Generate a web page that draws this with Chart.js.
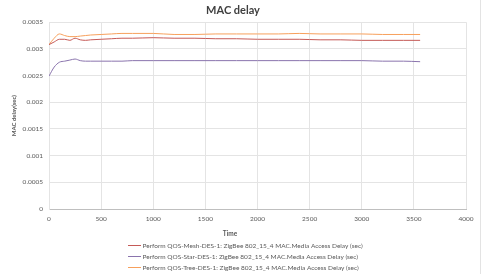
<!DOCTYPE html>
<html>
<head>
<meta charset="utf-8">
<script src="https://cdn.jsdelivr.net/npm/chart.js@4"></script>
<style>
  html, body { margin: 0; padding: 0; background: #ffffff; }
  #wrap { width: 484px; height: 274px; position: relative; }
</style>
</head>
<body>
<div id="wrap"><canvas id="c" width="484" height="274"></canvas></div>
<script>
const chartTitle = "MAC delay";
const xTitle = "Time";
const yTitle = "MAC delay(sec)";
const times = [0, 50, 100, 150, 200, 250, 300, 350, 400, 500, 600, 700, 800, 1000, 1200, 1400, 1600, 1800, 2000, 2200, 2400, 2600, 2800, 3000, 3200, 3400, 3560];
const meshDelay = [0.00308, 0.00313, 0.00318, 0.00318, 0.00316, 0.00320, 0.00317, 0.00316, 0.00317, 0.00318, 0.00319, 0.00320, 0.00320, 0.00321, 0.00320, 0.00320, 0.00319, 0.00319, 0.00318, 0.00318, 0.00318, 0.00317, 0.00317, 0.00316, 0.00316, 0.00316, 0.00316];
const starDelay = [0.00249, 0.00266, 0.00275, 0.00277, 0.00279, 0.00281, 0.00278, 0.00277, 0.00277, 0.00277, 0.00277, 0.00277, 0.00278, 0.00278, 0.00278, 0.00278, 0.00278, 0.00278, 0.00278, 0.00278, 0.00278, 0.00278, 0.00278, 0.00278, 0.00277, 0.00277, 0.00276];
const treeDelay = [0.00308, 0.00320, 0.00328, 0.00325, 0.00323, 0.00323, 0.00324, 0.00325, 0.00326, 0.00327, 0.00328, 0.00329, 0.00329, 0.00329, 0.00327, 0.00327, 0.00328, 0.00328, 0.00328, 0.00328, 0.00329, 0.00328, 0.00328, 0.00328, 0.00327, 0.00327, 0.00327];
const seriesLabels = [
  "Perform QOS-Mesh-DES-1: ZigBee 802_15_4 MAC.Media Access Delay (sec)",
  "Perform QOS-Star-DES-1: ZigBee 802_15_4 MAC.Media Access Delay (sec)",
  "Perform QOS-Tree-DES-1: ZigBee 802_15_4 MAC.Media Access Delay (sec)"
];
const seriesColors = ["#c55a57", "#8a74ad", "#f7a05c"];
const xMin = 0, xMax = 4000, xStep = 500;
const yMin = 0, yMax = 0.0035, yStep = 0.0005;

const FONT = "Lato, 'Open Sans', sans-serif";
const TEXT = "#595959";

function pts(vals) { return times.map((t, i) => ({ x: t, y: vals[i] })); }

const extras = {
  id: 'extras',
  afterDraw(chart) {
    const ctx = chart.ctx;
    ctx.save();
    ctx.fillStyle = TEXT;
    ctx.font = "bold 6.5px " + FONT;
    ctx.textAlign = 'center';
    ctx.textBaseline = 'middle';
    ctx.fillText(xTitle, 230, 234);
    ctx.font = "6.5px " + FONT;
    ctx.textAlign = 'left';
    const rows = [245.5, 256.5, 267.5];
    chart.data.datasets.forEach((ds, i) => {
      ctx.strokeStyle = ds.borderColor;
      ctx.lineWidth = 1;
      ctx.beginPath();
      ctx.moveTo(128, rows[i]);
      ctx.lineTo(141, rows[i]);
      ctx.stroke();
      ctx.fillStyle = TEXT;
      ctx.fillText(ds.label, 142.5, rows[i] + 0.5);
    });
    ctx.strokeStyle = "#e3e3e3";
    ctx.beginPath();
    ctx.moveTo(480.5, 0);
    ctx.lineTo(480.5, 274);
    ctx.stroke();
    ctx.restore();
  }
};

new Chart(document.getElementById('c'), {
  type: 'line',
  data: {
    datasets: [
      { label: seriesLabels[0], data: pts(meshDelay), borderColor: seriesColors[0], backgroundColor: seriesColors[0] },
      { label: seriesLabels[1], data: pts(starDelay), borderColor: seriesColors[1], backgroundColor: seriesColors[1] },
      { label: seriesLabels[2], data: pts(treeDelay), borderColor: seriesColors[2], backgroundColor: seriesColors[2] }
    ]
  },
  options: {
    responsive: false,
    animation: false,
    devicePixelRatio: 1,
    layout: { padding: { left: 0, right: 18, top: 0, bottom: 0 } },
    elements: {
      point: { radius: 0 },
      line: { borderWidth: 1, tension: 0.35, cubicInterpolationMode: 'monotone' }
    },
    plugins: {
      legend: { display: false },
      tooltip: { enabled: false },
      title: {
        display: true,
        text: chartTitle,
        color: "#404040",
        font: { family: FONT, size: 11, weight: 'bold' },
        padding: { top: 4, bottom: 5 }
      }
    },
    scales: {
      x: {
        type: 'linear',
        min: xMin, max: xMax,
        afterFit(s) { s.height = 65; },
        grid: { color: "#e4e4e4", drawTicks: false },
        border: { color: "#bfbfbf" },
        ticks: { stepSize: xStep, color: TEXT, font: { family: FONT, size: 6.5 }, padding: 6, maxRotation: 0,
          callback: v => String(v) }
      },
      y: {
        min: yMin, max: yMax,
        afterFit(s) { s.width = 49; },
        grid: { color: "#e4e4e4", drawTicks: false },
        border: { color: "#e4e4e4" },
        ticks: {
          stepSize: yStep, color: TEXT, font: { family: FONT, size: 6.5 }, padding: 6,
          callback: v => (Math.round(v * 10000) / 10000).toString()
        },
        title: {
          display: true, text: yTitle, color: TEXT,
          font: { family: FONT, size: 6, weight: 'bold' },
          padding: { top: 10, bottom: 0 }
        }
      }
    }
  },
  plugins: [extras]
});
</script>
</body>
</html>
